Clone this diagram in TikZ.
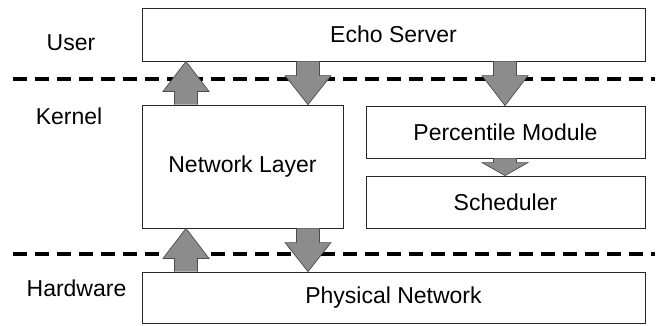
\documentclass[tikz,border=0pt]{standalone}
\usepackage{fontspec}
\setmainfont{Liberation Sans}
\usetikzlibrary{calc}
\tikzset{
  box/.style={draw=black!85, line width=.8pt, fill=white, inner sep=0pt,
    font=\fontsize{23}{27}\selectfont},
  lbl/.style={font=\fontsize{23}{27}\selectfont},
  sep/.style={line width=4pt, dash pattern=on 14pt off 8pt},
  arrfill/.style={fill=black!45},
  arrline/.style={draw=black!70, line width=.7pt, line join=miter},
}
% block arrow: x, tail anchor, tip anchor, head length
\newcommand{\blockarrow}[4]{%
  \coordinate (ta) at (#1,0 |- #2);
  \coordinate (tp) at (#1,0 |- #3);
  \coordinate (hb) at ($(tp)!#4!(ta)$);
  \fill[arrfill] ($(ta)!11.5pt!90:(tp)$) -- ($(hb)!11.5pt!90:(tp)$) -- ($(hb)!23pt!90:(tp)$) -- (tp)
    -- ($(hb)!23pt!-90:(tp)$) -- ($(hb)!11.5pt!-90:(tp)$) -- ($(ta)!11.5pt!-90:(tp)$) -- cycle;
  \draw[arrline] ($(ta)!11.5pt!90:(tp)$) -- ($(hb)!11.5pt!90:(tp)$) -- ($(hb)!23pt!90:(tp)$) -- (tp)
    -- ($(hb)!23pt!-90:(tp)$) -- ($(hb)!11.5pt!-90:(tp)$) -- ($(ta)!11.5pt!-90:(tp)$);
}
\begin{document}
\begin{tikzpicture}[x=1pt, y=1pt]
\useasboundingbox (0,0) rectangle (661,325);

\foreach \y in {246,71}
{
    \draw[sep] (13,\y) -- (655,\y);
}

\node[lbl] (user) at (71,282) {User};
\node[lbl] (kernel) at (69,209) {Kernel};
\node[lbl] (hw) at (76.5,37) {Hardware};

\node[box, minimum width=503pt, minimum height=53pt] (echo) at (393.5,290.5) {Echo Server};
\node[box, minimum width=201pt, minimum height=123pt] (net) at (242.5,158.5) {Network Layer};
\node[box, minimum width=279pt, minimum height=52pt] (pct) at (505.5,193) {Percentile Module};
\node[box, minimum width=279pt, minimum height=52pt] (sched) at (505.5,123) {Scheduler};
\node[box, minimum width=503pt, minimum height=51pt] (phy) at (393.5,27.5) {Physical Network};

\blockarrow{186}{net.north}{echo.south}{30pt}
\blockarrow{308}{echo.south}{net.north}{29pt}
\blockarrow{505}{echo.south}{pct.north}{30pt}
\blockarrow{505}{pct.south}{sched.north}{13pt}
\blockarrow{186}{phy.north}{net.south}{30pt}
\blockarrow{308}{net.south}{phy.north}{29pt}
\end{tikzpicture}
\end{document}
